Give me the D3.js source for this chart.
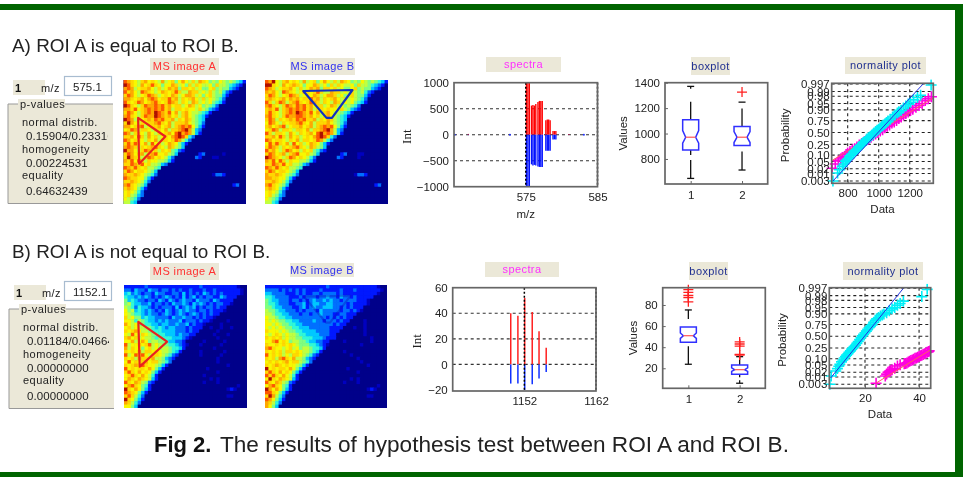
<!DOCTYPE html>
<html>
<head>
<meta charset="utf-8">
<script src="https://cdn.jsdelivr.net/npm/d3@7"></script>
<style>
  html, body { margin: 0; padding: 0; background: #fff; }
  svg { display: block; filter: blur(0.45px); }
  text { font-family: "Liberation Sans", Arial, sans-serif; fill: #222; }
  .tick text { font-size: 11.5px; }
</style>
</head>
<body>
<div id="container"></div>
<script>
/* CONSTANTS AND GLOBALS */
const width = 973,
    height = 477,
    panelBg = "#ebe8d8",
    green = "#006400";

/* DATA */
// heat maps: one char per cell, base 13 index into jetColors, missing cells are navy
const jetColors = ["#00008a", "#0018ff", "#0070ff", "#00c8ff", "#30f8d8", "#80ff80",
    "#c0ff40", "#f8f800", "#ffd800", "#ffa800", "#ff5800", "#b01000", "#0000c0"];

const heatA = [
    "a98768978769678579768698756576565431",
    "ba876978a87577986758687667586654321",
    "9a96788976867989588786755785655321",
    "a8976a987679878a8669886768656421",
    "8a97678a98678798679986757865531",
    "99878979a9788a8968789768676542",
    "a878a9789a878a9868769867675431",
    "ba8768a99a9a8978867986756542",
    "998a789a9a9a8968878776865321",
    "8a97689a9ba98a796897665431",
    "9a8768a99ba98978689765431",
    "ba9687898a9a889687986543",
    "8b97687889a8796888976542",
    "99789a67889789689a9a7531",
    "78a96887688796889ab9632",
    "a96887697687897ab9a9631",
    "8897a8697867879aba8420",
    "a97887687968878a9642",
    "8a8a8796a7867987531",
    "9a9868789a87698653",
    "b99768a97868785421",
    "8a9789689a7786530000001200000c",
    "8b98768a978764200000021000cc",
    "98a7a8687766531",
    "88a98a7866532",
    "a98a8786654",
    "8a97887653",
    "98898765420000000000000000c2210",
    "a98877531",
    "88987642",
    "9a87653000000000000000000000000012",
    "8987531",
    "7876420",
    "786532",
    "76542",
    "6643"
];

const heatB = [
    "a9b768978769678579768698756576565431",
    "bb876978987577986758687667586654321",
    "a986788976867989588786755785655321",
    "98976a987679878a8669886768656421",
    "8a97678a98678798679986757865531",
    "8987897989788a8968789768676542",
    "a868a9689a878a9868769867675431",
    "9a8768a98a9a8978867986756542",
    "898a689a9a9a8968878776865321",
    "8a87689a9ba98a796897665431",
    "9a8768a99aa98978689765431",
    "8a9687898a9a889687986543",
    "7a97687889a8796888976542",
    "89789a67889789689a9a7531",
    "78a96887688796889ab9632",
    "a86887697687897ab9a9631",
    "8897a8697867879aba8420",
    "a97887687968878a9642",
    "7a8a8796a7867987531",
    "8a9868789a87698653",
    "a89768a97868785421",
    "8a9789689a77865300000012000cc",
    "ba98768a9787642000000210000c",
    "98a7a8687766531",
    "88a98a7866532",
    "a98a8786654",
    "8a97887653",
    "98898765420000000000000000c2210",
    "998877531",
    "88987642",
    "9a87653000000000000000000000000012",
    "8987531",
    "7876420",
    "786532",
    "76542",
    "6643"
];

const heatC = [
    "111111211111111111111121111111111c00",
    "2213221322122121211211121121111111c0",
    "3423212213221122131212132121211111c0",
    "433232321212321213123121221132111",
    "53432212213213212322132221321111",
    "5643322312212132232132321212211c",
    "6542433212122213123231212212110",
    "75634323212132123232212212111c0",
    "765443232212321232123212121100",
    "86755343322221322322121211c00",
    "7764654332323222312221211c0000c",
    "97675544332332232231211c0000c00",
    "7867665543432332221211100c00c00c",
    "878976654443333222121100000c",
    "76a76876554433323221100000c000c",
    "8978676654544433321c0000000c00",
    "77967975665543322100000c00000c0",
    "a677878a6765544321c000c00000c",
    "96877578675665443100000000c00",
    "8787968878766543100000c000000c",
    "a67a8a7688765421000000c00000c",
    "878698879665321000000000000c",
    "7a7878978865420000000000000c0",
    "87898a877653100000000000000000c",
    "a78788797531000000000000c",
    "8a8797875310000000000000000c",
    "78a87976410000000000000c",
    "7987987631000000000000000c0c",
    "a8798652100000000000000c000c",
    "79a875410000000000000000000000000c",
    "b87975310000000000000000000000c1c",
    "a98753100000000000000000000000000",
    "8a8642000000000000000000000000cc",
    "b87531",
    "98642",
    "7753"
];

const heatD = [
    "111111111111111111211111111111111c00",
    "2222121212121111211111211121111111c0",
    "332222111212112212222121111111111c",
    "44322221112122212232213221211111",
    "543322212212123223232212222111c",
    "544322211223123322332222121111c",
    "55433222112312322333221212111",
    "6554332221212221322222122121c",
    "665443322212212232221122111",
    "766544332222222222121212110",
    "76765544332222322122212110000c",
    "77676554433222222222121100000c",
    "76767655443332222221111000c00c",
    "87776765544333322221110000000c",
    "76787676654433332221100000000c",
    "8787867665544433321110000000000c",
    "779a7875665543322110000c0000000c",
    "877878787655544321c000000000c",
    "9a87767867566544310000000000",
    "87878688787665431000000c",
    "a787867688765421000000000c",
    "87869a879665321000000000000c",
    "7878789788654200000000000000c",
    "878987877653100000000000000000c",
    "b78788797531000000000000c",
    "8a8797875310000000000000000c",
    "a8a87976410000000000000",
    "7b87987631000000000000000c0c",
    "a8798652100000000000000c000c",
    "79a875410000000000000000000000000c",
    "b97975310000000000000000000000c1c",
    "aa8753100000000000000000000000000",
    "8b9642000000000000000000000000cc",
    "a97531",
    "98642",
    "9753"
];

// ROI outlines in cell units
const roiA = [[4.3, 11], [12.3, 16.4], [4.6, 24.3]];
const roiB = [[11.2, 3.2], [25.6, 2.9], [19.6, 11], [18, 11]];
const roiC = [[4.2, 10.8], [12.6, 16.6], [4.6, 23.9]];
const roiD = [[11.5, 3.4], [25.2, 3.2], [19.2, 11], [18, 11]];

// spectra A
const specAxTop = [575.1, 575.3, 575.5, 575.8, 576, 576.2, 576.4, 576.7, 576.9, 577.1, 577.3, 577.8, 578, 578.2, 578.4, 578.8, 579, 579.2, 567, 581];
const specAupper = [1000, 1000, 1000, 560, 570, 560, 590, 630, 650, 650, 650, 280, 290, 290, 280, 70, 70, 70, 15, 12];
const specAlower = [-1000, -1000, -1000, -570, -590, -580, -590, -610, -620, -620, -620, -310, -310, -310, -310, -90, -90, -90, -8, -6];
const specAdotsBlue = [565.1, 572.8, 583.1];
// spectra B
const specBx = [1150.1, 1151.1, 1152.05, 1153.1, 1154.05, 1155.05];
const specBupper = [40, 38, 52, 41, 26, 13];
const specBlower = [-15, -15, -20, -15.5, -11, -6];

// boxplots: [whiskerLow, q1, notchLow, median, notchHigh, q3, whiskerHigh]
const boxA1 = [647, 871, 924, 971, 1024, 1108, 1371];
const boxA2 = [713, 905, 929, 971, 1016, 1055, 1247];
const outA1 = [];
const outA2 = [1326];
const boxB1 = [23.8, 44.6, 48.3, 50.9, 53.5, 59.1, 75.3];
const boxB2 = [5.8, 14.3, 17, 18.7, 20.4, 23, 31];
const outB1 = [94.5, 92, 89, 87, 83];
const outB2 = [32.6, 33.2, 41, 43, 45];

// normality plots
const probTicks = [0.003, 0.01, 0.02, 0.05, 0.10, 0.25, 0.50, 0.75, 0.90, 0.95, 0.98, 0.99, 0.997];
const probZ = [-2.748, -2.326, -2.054, -1.645, -1.282, -0.674, 0, 0.674, 1.282, 1.645, 2.054, 2.326, 2.748];
const probLabels = ["0.003", "0.01", "0.02", "0.05", "0.10", "0.25", "0.50", "0.75", "0.90", "0.95", "0.98", "0.99", "0.997"];

const normAmagX = [700, 720, 740, 755, 765, 780, 790, 800, 815, 830, 845, 860, 875, 890, 905, 920, 935, 950, 965, 980, 995, 1010, 1025, 1040, 1055, 1070, 1085, 1100, 1115, 1130, 1145, 1160, 1175, 1190, 1205, 1220, 1240, 1260, 1280, 1300, 1320, 1340];
const normAmagP = [.022, .04, .055, .07, .08, .09, .11, .13, .15, .17, .19, .215, .24, .27, .3, .33, .36, .4, .44, .47, .5, .53, .56, .6, .63, .66, .7, .72, .75, .78, .8, .83, .85, .87, .89, .905, .92, .935, .95, .962, .97, .978];
const normAcyanX = [705, 735, 748, 765, 775, 785, 790, 800, 810, 815, 825, 835, 840, 850, 860, 870, 875, 885, 895, 900, 910, 920, 925, 935, 945, 955, 965, 970, 980, 990, 1000, 1010, 1020, 1030, 1040, 1050, 1060, 1075, 1090, 1105, 1120, 1130, 1145, 1160, 1175, 1190, 1205, 1225, 1250, 1270, 1338];
const normAcyanP = [.003, .011, .018, .03, .04, .05, .06, .07, .08, .095, .11, .125, .145, .16, .18, .2, .22, .24, .27, .29, .31, .34, .365, .39, .41, .44, .47, .49, .52, .545, .57, .6, .63, .655, .68, .71, .74, .77, .8, .83, .855, .875, .895, .915, .93, .945, .955, .965, .975, .982, .996];
const normBmagX = [24.1, 27.5, 28, 28.5, 29, 29.5, 30, 31, 32, 33, 34.5, 35, 35.5, 36, 36.5, 37, 37.5, 38, 38.5, 39, 39.5, 40, 40.5, 41, 41.5, 42, 42.5, 43, 43.5, 44];
const normBmagP = [.004, .012, .016, .02, .024, .027, .03, .036, .046, .052, .06, .062, .067, .073, .08, .085, .09, .095, .105, .11, .12, .13, .14, .15, .16, .17, .18, .19, .2, .21];
const normBcyanX = [7, 7.5, 9.2, 9.8, 10.3, 10.7, 11.3, 11.8, 12.3, 12.8, 13.2, 13.7, 14.1, 14.6, 15.1, 15.6, 16, 16.5, 17, 17.5, 18, 18.5, 19, 19.5, 20, 20.5, 21, 21.5, 22, 22.6, 23.2, 23.8, 24.3, 25, 25.7, 26.4, 27, 28, 29, 30, 31, 32, 33, 34.2, 41, 43];
const normBcyanP = [.003, .012, .025, .035, .045, .055, .075, .09, .11, .13, .15, .17, .19, .21, .235, .255, .28, .31, .35, .39, .43, .47, .51, .54, .575, .61, .65, .68, .71, .74, .78, .81, .83, .85, .87, .885, .9, .91, .925, .94, .95, .96, .967, .977, .988, .996];

/* PAGE */
const svg = d3.select("#container")
    .append("svg")
    .attr("width", width)
    .attr("height", height)
    .style("background-color", "white");

// GREEN BORDER
svg.append("rect").attr("x", 0).attr("y", 4).attr("width", 963).attr("height", 6).attr("fill", green);
svg.append("rect").attr("x", 0).attr("y", 472).attr("width", 963).attr("height", 5).attr("fill", green);
svg.append("rect").attr("x", 955).attr("y", 4).attr("width", 8).attr("height", 473).attr("fill", green);

function addText(x, y, str, size, color, extra) {
    const t = svg.append("text")
        .attr("x", x)
        .attr("y", y)
        .style("font-size", size + "px")
        .style("fill", color || "#222")
        .text(str);
    if (extra) extra(t);
    return t;
}

function button(x0, y0, x1, y1, str, color) {
    svg.append("rect")
        .attr("x", x0).attr("y", y0)
        .attr("width", x1 - x0).attr("height", y1 - y0)
        .attr("fill", panelBg);
    addText((x0 + x1) / 2, (y0 + y1) / 2 + 3.5, str, 11, color, t => t
        .attr("text-anchor", "middle")
        .style("letter-spacing", "0.4px"));
}

// HEADINGS
addText(12, 52, "A) ROI A is equal to ROI B.", 18.9);
addText(12, 258, "B) ROI A is not equal to ROI B.", 18.9);
addText(154, 452, "Fig 2.", 22, "#111", t => t.style("font-weight", "bold"));
addText(220, 452, "The results of hypothesis test between ROI A and ROI B.", 22.6);

// CONTROL PANELS
function controlPanel(topY, boxX, mz, lines) {
    const ui = (x, y, str, size) => addText(x, y, str, size || 11, "#222", t => t.style("letter-spacing", "0.45px"));
    svg.append("rect").attr("x", boxX + 5).attr("y", topY).attr("width", 32).attr("height", 15).attr("fill", panelBg);
    addText(boxX + 7, topY + 12, "1", 11, "#111", t => t.style("font-weight", "bold"));
    ui(boxX + 33, topY + 12, "m/z");
    svg.append("rect").attr("x", 64.5).attr("y", topY - 3.5).attr("width", 47).attr("height", 19)
        .attr("fill", "white").attr("stroke", "#a8bcd0").attr("stroke-width", 1.2);
    addText(73, topY + 11, mz, 11.5);

    const g0 = topY + 24;
    svg.append("rect").attr("x", boxX).attr("y", g0).attr("width", 105).attr("height", 99.5)
        .attr("fill", panelBg);
    svg.append("path")
        .attr("d", `M${boxX + 105},${g0}H${boxX}V${g0 + 99.5}H${boxX + 105}`)
        .attr("fill", "none").attr("stroke", "#999").attr("stroke-width", 1);
    svg.append("rect").attr("x", boxX + 10).attr("y", g0 - 5).attr("width", 47).attr("height", 11).attr("fill", panelBg);
    ui(boxX + 12, g0 + 4, "p-values");

    const clipId = "clip" + topY;
    svg.append("clipPath").attr("id", clipId)
        .append("rect").attr("x", boxX).attr("y", g0).attr("width", 100).attr("height", 99);
    const offs = [22, 36, 49, 63, 75, 91];
    lines.forEach((l, i) => {
        ui(boxX + (i % 2 ? 18 : 14), g0 + offs[i], l, i % 2 ? 11.5 : 11)
            .attr("clip-path", "url(#" + clipId + ")")
            .style("letter-spacing", i % 2 ? "0.1px" : "0.45px");
    });
}

controlPanel(80, 8, "575.1", ["normal distrib.", "0.15904/0.23316", "homogeneity", "0.00224531", "equality", "0.64632439"]);
controlPanel(285, 9, "1152.1", ["normal distrib.", "0.01184/0.04664", "homogeneity", "0.00000000", "equality", "0.00000000"]);

// HEAT MAPS
function heatMap(x0, y0, x1, y1, rows, roi, roiColor, roiOpacity) {
    const xScale = d3.scaleBand().domain(d3.range(36)).range([x0, x1]);
    const yScale = d3.scaleBand().domain(d3.range(36)).range([y0, y1]);
    const cells = [];
    rows.forEach((row, r) => {
        row.padEnd(36, "0").slice(0, 36).split("").forEach((c, col) => {
            cells.push({ r: r, col: col, v: parseInt(c, 13) });
        });
    });
    svg.append("rect")
        .attr("x", x0).attr("y", y0)
        .attr("width", x1 - x0).attr("height", y1 - y0)
        .attr("fill", jetColors[0]);
    svg.append("g").selectAll("rect")
        .data(cells)
        .join("rect")
        .attr("x", d => xScale(d.col))
        .attr("y", d => yScale(d.r))
        .attr("width", d => xScale.bandwidth() + (d.col < 35 ? 0.6 : 0))
        .attr("height", d => yScale.bandwidth() + (d.r < 35 ? 0.6 : 0))
        .attr("fill", d => jetColors[d.v]);

    const px = d3.scaleLinear().domain([0, 36]).range([x0, x1]);
    const py = d3.scaleLinear().domain([0, 36]).range([y0, y1]);
    svg.append("path")
        .attr("d", d3.line().x(d => px(d[0])).y(d => py(d[1])).curve(d3.curveLinearClosed)(roi))
        .attr("fill", "none")
        .attr("stroke", roiColor)
        .attr("stroke-opacity", roiOpacity)
        .attr("stroke-linejoin", "round")
        .attr("stroke-width", 2.2);
}

heatMap(123.5, 80, 246, 204, heatA, roiA, "#e82020", 1);
heatMap(265, 80, 388, 204, heatB, roiB, "#1030c0", 1);
heatMap(124, 285, 247, 408, heatC, roiC, "#e82020", 1);
heatMap(265, 285, 387, 408, heatD, roiD, "#0818c0", 0.4);

button(150, 58, 219, 75, "MS image A", "#ff3030");
button(290, 58, 355, 75, "MS image B", "#3030f0");
button(150, 263, 219, 280, "MS image A", "#ff3030");
button(290, 263, 354, 277, "MS image B", "#3030f0");
button(486, 57, 561, 72, "spectra", "#ff30ff");
button(485, 262, 559, 277, "spectra", "#ff30ff");
button(691, 57, 730, 75, "boxplot", "#203090");
button(689, 262, 728, 280, "boxplot", "#203090");
button(845, 57, 926, 74, "normality plot", "#203090");
button(843, 262, 923, 280, "normality plot", "#203090");

// SHARED AXES FRAME
function frame(x0, y0, x1, y1) {
    svg.append("rect")
        .attr("x", x0).attr("y", y0)
        .attr("width", x1 - x0).attr("height", y1 - y0)
        .attr("fill", "none")
        .attr("stroke", "#666")
        .attr("stroke-width", 1.7);
}

function axes(x0, y1, xAxis, yAxis) {
    const gx = svg.append("g").attr("transform", "translate(0," + y1 + ")").call(xAxis);
    const gy = svg.append("g").attr("transform", "translate(" + x0 + ",0)").call(yAxis);
    [gx, gy].forEach(g => {
        g.select(".domain").remove();
        g.selectAll("line").attr("stroke", "#666");
        g.selectAll("text").style("fill", "#222");
    });
    return { gx: gx, gy: gy };
}

function axisLabel(x, y, str, rotate, font, size) {
    addText(0, 0, str, size || 11.5, "#222", t => t
        .attr("text-anchor", "middle")
        .attr("x", null).attr("y", null)
        .attr("transform", "translate(" + x + "," + y + ")" + (rotate ? " rotate(-90)" : ""))
        .style("font-family", font || null));
}

// SPECTRA
function spectra(cfg) {
    const xScale = d3.scaleLinear().domain(cfg.xDomain).range([cfg.x0, cfg.x1]);
    const yScale = d3.scaleLinear().domain(cfg.yDomain).range([cfg.y1, cfg.y0]);

    cfg.grid.forEach(v => {
        svg.append("line")
            .attr("x1", cfg.x0).attr("x2", cfg.x1)
            .attr("y1", yScale(v)).attr("y2", yScale(v))
            .attr("stroke", "#333").attr("stroke-width", 1.1).attr("stroke-dasharray", "3,3");
    });

    svg.append("g").selectAll("line")
        .data(cfg.mz)
        .join("line")
        .attr("x1", d => xScale(d)).attr("x2", d => xScale(d))
        .attr("y1", yScale(0))
        .attr("y2", (d, i) => yScale(cfg.upper[i]))
        .attr("stroke", cfg.red)
        .attr("stroke-width", cfg.bar);
    svg.append("g").selectAll("line")
        .data(cfg.mz)
        .join("line")
        .attr("x1", d => xScale(d)).attr("x2", d => xScale(d))
        .attr("y1", yScale(0))
        .attr("y2", (d, i) => yScale(cfg.lower[i]))
        .attr("stroke", cfg.blue)
        .attr("stroke-width", cfg.bar);

    svg.append("g").selectAll("circle")
        .data(cfg.dots || [])
        .join("circle")
        .attr("cx", d => xScale(d))
        .attr("cy", yScale(0))
        .attr("r", 1)
        .attr("fill", "#2030ff");

    cfg.xTicks.forEach(v => {
        svg.append("line")
            .attr("x1", xScale(v)).attr("x2", xScale(v))
            .attr("y1", cfg.y0).attr("y2", cfg.y1)
            .attr("stroke", "#000").attr("stroke-width", 1.5).attr("stroke-dasharray", "2,2");
    });

    frame(cfg.x0, cfg.y0, cfg.x1, cfg.y1);
    axes(cfg.x0, cfg.y1,
        d3.axisBottom(xScale).tickValues(cfg.xTicks).tickFormat(d3.format("d")).tickSize(0).tickPadding(6),
        d3.axisLeft(yScale).tickValues(cfg.yTicks).tickFormat(d => String(d).replace("-", "\u2212")).tickSize(0).tickPadding(5));
    axisLabel(cfg.labelX, (cfg.y0 + cfg.y1) / 2 + 2, "Int", true, "Liberation Serif", 13);
    if (cfg.xLabel) axisLabel((xScale(cfg.xTicks[0])), cfg.y1 + 31, cfg.xLabel, false);
}

spectra({
    x0: 454, x1: 597.5, y0: 82.7, y1: 186.7,
    xDomain: [565, 585], yDomain: [-1000, 1000],
    grid: [500, 0, -500], xTicks: [575, 585], yTicks: [1000, 500, 0, -500, -1000],
    mz: specAxTop, upper: specAupper, lower: specAlower, dots: specAdotsBlue,
    red: "#ff0000", blue: "#0010ff", bar: 1.35, labelX: 411, xLabel: "m/z"
});
spectra({
    x0: 452.7, x1: 596, y0: 287.7, y1: 391,
    xDomain: [1142, 1162], yDomain: [-20.8, 60],
    grid: [40, 20, 0], xTicks: [1152, 1162], yTicks: [60, 40, 20, 0, -20],
    mz: specBx, upper: specBupper, lower: specBlower,
    red: "#ff2020", blue: "#1030ff", bar: 1.5, labelX: 421
});

// BOXPLOTS
function boxplot(cfg) {
    const xScale = d3.scaleLinear().domain([0.5, 2.5]).range([cfg.x0, cfg.x1]);
    const yScale = d3.scaleLinear().domain(cfg.yDomain).range([cfg.y1, cfg.y0]);
    const hw = 8, nw = 5, capW = 3.5;

    [cfg.box1, cfg.box2].forEach((b, i) => {
        const cx = xScale(i + 1);
        const [wLow, q1, nLow, med, nHigh, q3, wHigh] = b.map(yScale);
        // whiskers come out of the box broken up, as in the picture
        svg.append("line").attr("x1", cx).attr("x2", cx).attr("y1", q3).attr("y2", wHigh)
            .attr("stroke", "#111").attr("stroke-width", 1.3).attr("stroke-dasharray", cfg.dashHigh[i]);
        svg.append("line").attr("x1", cx).attr("x2", cx).attr("y1", q1).attr("y2", wLow)
            .attr("stroke", "#111").attr("stroke-width", 1.3).attr("stroke-dasharray", cfg.dashLow[i]);
        [wLow, wHigh].forEach(w => {
            svg.append("line").attr("x1", cx - capW).attr("x2", cx + capW).attr("y1", w).attr("y2", w)
                .attr("stroke", "#111").attr("stroke-width", 1.3);
        });
        svg.append("path")
            .attr("d", `M${cx - hw},${q3}H${cx + hw}V${nHigh}L${cx + nw},${med}L${cx + hw},${nLow}V${q1}H${cx - hw}V${nLow}L${cx - nw},${med}L${cx - hw},${nHigh}Z`)
            .attr("fill", "white").attr("stroke", "#3030ff").attr("stroke-width", 1.5);
        svg.append("line").attr("x1", cx - nw).attr("x2", cx + nw).attr("y1", med).attr("y2", med)
            .attr("stroke", "#ff6060").attr("stroke-width", 1.3);
    });

    [cfg.out1, cfg.out2].forEach((vals, i) => {
        const cx = xScale(i + 1);
        svg.append("g").selectAll("path")
            .data(vals)
            .join("path")
            .attr("d", d => `M${cx - 5},${yScale(d)}H${cx + 5}M${cx},${yScale(d) - 5}V${yScale(d) + 5}`)
            .attr("stroke", "#ff2020").attr("stroke-width", 1.3);
    });

    frame(cfg.x0, cfg.y0, cfg.x1, cfg.y1);
    axes(cfg.x0, cfg.y1,
        d3.axisBottom(xScale).tickValues([1, 2]).tickFormat(d3.format("d")).tickSize(-3).tickPadding(7),
        d3.axisLeft(yScale).tickValues(cfg.yTicks).tickFormat(d3.format("d")).tickSize(-3).tickPadding(5));
    axisLabel(cfg.labelX, (cfg.y0 + cfg.y1) / 2, "Values", true);
}

boxplot({
    x0: 665, x1: 767.7, y0: 82.7, y1: 184, yDomain: [603, 1400],
    box1: boxA1, box2: boxA2, out1: outA1, out2: outA2,
    dashHigh: ["18,13,100", "18,7,100"], dashLow: ["5,5,100", "0,6,100"],
    yTicks: [800, 1000, 1200, 1400], labelX: 627
});
boxplot({
    x0: 662.7, x1: 765.3, y0: 287.7, y1: 388.3, yDomain: [1, 96.4],
    box1: boxB1, box2: boxB2, out1: outB1, out2: outB2,
    dashHigh: ["0,8,100", "100"], dashLow: ["0,4,100", "3,3,100"],
    yTicks: [20, 40, 60, 80], labelX: 637
});

// NORMALITY PLOTS
function normality(cfg) {
    const xScale = d3.scaleLinear().domain(cfg.xDomain).range([cfg.x0, cfg.x1]);
    const zScale = d3.scaleLinear().domain([-2.748, 2.748]).range([cfg.yBottom, cfg.yTop]);
    const yScale = d3.scaleLinear().domain(probTicks).range(probZ.map(zScale));

    probTicks.forEach(p => {
        svg.append("line")
            .attr("x1", cfg.x0).attr("x2", cfg.x1)
            .attr("y1", yScale(p)).attr("y2", yScale(p))
            .attr("stroke", "#222").attr("stroke-width", 1.1).attr("stroke-dasharray", "3,3");
    });
    cfg.xTicks.forEach(v => {
        svg.append("line")
            .attr("x1", xScale(v)).attr("x2", xScale(v))
            .attr("y1", cfg.y0).attr("y2", cfg.y1)
            .attr("stroke", "#222").attr("stroke-width", 1.1).attr("stroke-dasharray", "3,3");
    });

    const clipId = "norm" + cfg.x0;
    svg.append("clipPath").attr("id", clipId)
        .append("rect")
        .attr("x", cfg.x0 - 6).attr("y", cfg.y0 - 4)
        .attr("width", cfg.x1 - cfg.x0 + 10).attr("height", cfg.y1 - cfg.y0 + 8);
    const plot = svg.append("g").attr("clip-path", "url(#" + clipId + ")");

    function plus(xs, ps, color) {
        plot.append("g").selectAll("path")
            .data(xs)
            .join("path")
            .attr("d", (d, i) => {
                const x = xScale(d), y = yScale(ps[i]);
                return `M${x - 5.5},${y}H${x + 5.5}M${x},${y - 5.5}V${y + 5.5}`;
            })
            .attr("stroke", color)
            .attr("stroke-width", 1.6);
    }
    function refLine(seg, color) {
        plot.append("line")
            .attr("x1", xScale(seg[0])).attr("y1", yScale(seg[1]))
            .attr("x2", xScale(seg[2])).attr("y2", yScale(seg[3]))
            .attr("stroke", color).attr("stroke-width", 1);
    }

    plus(cfg.magX, cfg.magP, "#ff00e0");
    refLine(cfg.redLine, "#ff6060");
    plus(cfg.cyanX, cfg.cyanP, "#00f0f8");
    refLine(cfg.blueLine, "#2030e0");

    frame(cfg.x0, cfg.y0, cfg.x1, cfg.y1);
    axes(cfg.x0, cfg.y1,
        d3.axisBottom(xScale).tickValues(cfg.xTicks).tickFormat(d3.format("d")).tickSize(-3).tickPadding(6),
        d3.axisLeft(yScale).tickValues(probTicks).tickFormat((d, i) => probLabels[i]).tickSize(0).tickPadding(2));
    axisLabel(cfg.labelX, (cfg.y0 + cfg.y1) / 2 + 2, "Probability", true);
    axisLabel((cfg.x0 + cfg.x1) / 2, cfg.y1 + 30, "Data", false);
}

normality({
    x0: 831.7, x1: 933.3, y0: 83.3, y1: 183.3, yTop: 84, yBottom: 181,
    xDomain: [697, 1352], xTicks: [800, 1000, 1200],
    magX: normAmagX, magP: normAmagP, cyanX: normAcyanX, cyanP: normAcyanP,
    redLine: [697, 0.056, 1352, 0.974], blueLine: [705, 0.003, 1286, 0.997], labelX: 789
});
normality({
    x0: 829.3, x1: 930.7, y0: 287.7, y1: 388.3, yTop: 288.3, yBottom: 384.3,
    xDomain: [6.8, 44.3], xTicks: [20, 40],
    magX: normBmagX, magP: normBmagP, cyanX: normBcyanX, cyanP: normBcyanP,
    redLine: [24, 0.004, 44.3, 0.225], blueLine: [7.3, 0.009, 34.2, 0.997], labelX: 786
});
</script>
</body>
</html>
